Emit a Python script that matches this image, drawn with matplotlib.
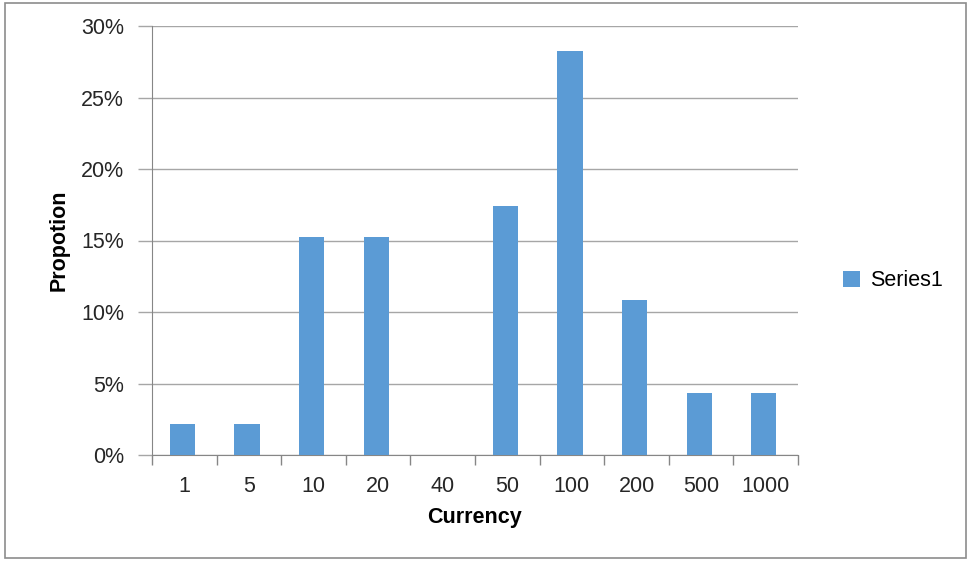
import numpy as np
import matplotlib.pyplot as plt
from matplotlib.patches import Rectangle
from matplotlib.ticker import PercentFormatter

# Datos
currency = ['1', '5', '10', '20', '40', '50', '100', '200', '500', '1000']
proportion = [0.0217, 0.0217, 0.1522, 0.1522, 0.0, 0.1739, 0.2826, 0.1087, 0.0435, 0.0435]
series_name = 'Series1'

plt.rcParams['font.family'] = ['Liberation Sans', 'DejaVu Sans']

fig = plt.figure(figsize=(9.69, 5.61), dpi=100)
ax = fig.add_axes([152 / 969, 1 - 455 / 561, 646 / 969, 429 / 561])

# Marco exterior del gráfico
fig.patches.append(Rectangle((5 / 969, 3 / 561), 961 / 969, 555 / 561,
                             transform=fig.transFigure, fill=False,
                             edgecolor='#8c8c8c', linewidth=1.2))

x = np.arange(len(currency))
ax.bar(x - 0.03, proportion, width=0.39, color='#5B9BD5', label=series_name, zorder=3)

ax.set_xlim(-0.5, len(currency) - 0.5)
ax.set_ylim(0, 0.30)
ax.set_yticks(np.arange(0, 0.31, 0.05))
ax.yaxis.set_major_formatter(PercentFormatter(1.0, decimals=0))
ax.grid(axis='y', color='#a6a6a6', linewidth=1, zorder=0)

ax.set_xticks(x)
ax.set_xticklabels(currency)
ax.set_xticks(np.arange(-0.5, len(currency)), minor=True)
ax.tick_params(axis='x', which='major', length=0, pad=15, labelsize=15.5, colors='#262626')
ax.tick_params(axis='x', which='minor', length=7, width=1, color='#868686')
ax.tick_params(axis='y', length=10, width=1, color='#a6a6a6', pad=10, labelsize=15.5,
               labelcolor='#262626')

for side in ['top', 'right']:
    ax.spines[side].set_visible(False)
ax.spines['left'].set_color('#868686')
ax.spines['bottom'].set_color('#868686')

ax.set_xlabel('Currency', fontsize=15.5, fontweight='bold', labelpad=7)
ax.set_ylabel('Propotion', fontsize=15.5, fontweight='bold', labelpad=8)

ax.legend(loc='center left', bbox_to_anchor=(1.04, 0.406), frameon=False,
          fontsize=15.5, handlelength=0.8, handleheight=0.8, handletextpad=0.45)

fig.savefig('out.png', dpi=100)
